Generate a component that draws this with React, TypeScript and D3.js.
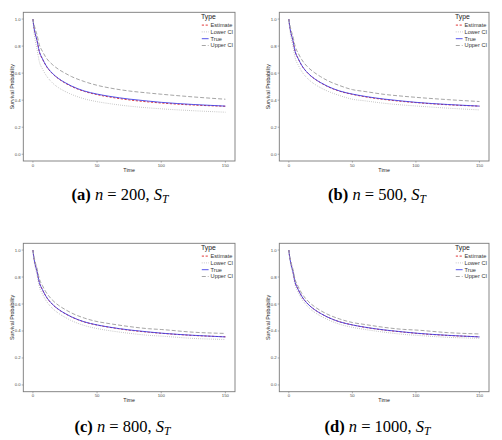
import React from "react";
import * as d3 from "d3";

// ---- data ----
const TIME = [0, 0.5, 1, 2, 3, 5, 7.5, 10, 15, 20, 25, 30, 40, 50, 60, 75, 90, 100, 125, 150];
const TRUE_SURV = [1, 0.96, 0.93, 0.885, 0.85, 0.76, 0.705, 0.66, 0.6, 0.56, 0.53, 0.505, 0.468, 0.445, 0.428, 0.408, 0.393, 0.384, 0.368, 0.356];

const EST_A = [1, 0.96, 0.928, 0.882, 0.848, 0.758, 0.703, 0.658, 0.598, 0.558, 0.527, 0.502, 0.465, 0.441, 0.423, 0.402, 0.387, 0.379, 0.364, 0.355];
const LOWER_A = [1, 0.94, 0.89, 0.83, 0.785, 0.685, 0.63, 0.588, 0.53, 0.492, 0.465, 0.443, 0.41, 0.389, 0.374, 0.356, 0.343, 0.336, 0.322, 0.311];
const UPPER_A = [1, 0.97, 0.955, 0.92, 0.89, 0.81, 0.76, 0.718, 0.665, 0.628, 0.6, 0.575, 0.538, 0.51, 0.49, 0.468, 0.453, 0.444, 0.424, 0.407];

const EST_B = [1, 0.96, 0.929, 0.884, 0.849, 0.759, 0.704, 0.659, 0.599, 0.559, 0.529, 0.503, 0.466, 0.443, 0.425, 0.405, 0.39, 0.382, 0.366, 0.356];
const LOWER_B = [1, 0.948, 0.905, 0.85, 0.808, 0.712, 0.658, 0.615, 0.558, 0.52, 0.492, 0.469, 0.434, 0.407, 0.395, 0.377, 0.364, 0.357, 0.341, 0.328];
const UPPER_B = [1, 0.968, 0.948, 0.91, 0.88, 0.798, 0.745, 0.702, 0.644, 0.605, 0.574, 0.547, 0.508, 0.478, 0.464, 0.443, 0.429, 0.421, 0.404, 0.39];

const EST_C = [1, 0.96, 0.93, 0.884, 0.85, 0.76, 0.704, 0.659, 0.599, 0.559, 0.529, 0.504, 0.467, 0.444, 0.427, 0.406, 0.391, 0.383, 0.367, 0.357];
const LOWER_C = [1, 0.952, 0.913, 0.861, 0.822, 0.728, 0.673, 0.629, 0.57, 0.531, 0.502, 0.477, 0.441, 0.418, 0.402, 0.383, 0.368, 0.362, 0.345, 0.337];
const UPPER_C = [1, 0.966, 0.943, 0.903, 0.872, 0.788, 0.735, 0.691, 0.631, 0.59, 0.56, 0.534, 0.496, 0.47, 0.454, 0.433, 0.417, 0.411, 0.391, 0.382];

const EST_D = [1, 0.96, 0.93, 0.885, 0.85, 0.76, 0.705, 0.66, 0.6, 0.56, 0.53, 0.505, 0.468, 0.445, 0.427, 0.407, 0.392, 0.383, 0.367, 0.357];
const LOWER_D = [1, 0.954, 0.918, 0.869, 0.831, 0.739, 0.684, 0.64, 0.58, 0.54, 0.511, 0.487, 0.45, 0.427, 0.411, 0.391, 0.375, 0.368, 0.353, 0.346];
const UPPER_D = [1, 0.965, 0.94, 0.899, 0.867, 0.781, 0.727, 0.682, 0.622, 0.582, 0.551, 0.526, 0.489, 0.463, 0.448, 0.427, 0.412, 0.407, 0.388, 0.378];

const X_TICKS = [0, 50, 100, 150];
const Y_TICKS = [0, 0.2, 0.4, 0.6, 0.8, 1.0];
const LEGEND_LABELS = ["Estimate", "Lower CI", "True", "Upper CI"];
const PANEL_LETTERS = ["a", "b", "c", "d"];
const PANEL_N = ["200", "500", "800", "1000"];

// ---- styles ----
const SERIES_STYLE = [
  { color: "#e23a3a", dash: "2.2,1.6", width: 1.0 },
  { color: "#a8a8a8", dash: "0.7,1.4", width: 0.9 },
  { color: "#3838e6", dash: "", width: 0.85 },
  { color: "#a0a0a0", dash: "4,2", width: 0.95 },
];

const PANELS = [
  { left: 23.3, right: 235, top: 12.3, bottom: 161, capX: 120, capY: 200, est: EST_A, lower: LOWER_A, upper: UPPER_A },
  { left: 279.3, right: 489, top: 12.3, bottom: 161, capX: 377, capY: 200, est: EST_B, lower: LOWER_B, upper: UPPER_B },
  { left: 23.3, right: 235, top: 243.3, bottom: 391.7, capX: 122.5, capY: 431.5, est: EST_C, lower: LOWER_C, upper: UPPER_C },
  { left: 279.3, right: 489, top: 243.3, bottom: 391.7, capX: 377.5, capY: 431.5, est: EST_D, lower: LOWER_D, upper: UPPER_D },
];

const SANS = "'Liberation Sans', Arial, sans-serif";
const SERIF = "'Liberation Serif', 'DejaVu Serif', 'Times New Roman', serif";

function Panel({ p, idx }: { p: typeof PANELS[number]; idx: number }) {
  const x = d3.scaleLinear().domain([-7.5, 157.5]).range([p.left, p.right]);
  const y = d3.scaleLinear().domain([-0.05, 1.05]).range([p.bottom, p.top]);
  const line = d3
    .line<number>()
    .x((_, i) => x(TIME[i]))
    .y((v) => y(v))
    .curve(d3.curveMonotoneX);
  const series = [p.est, p.lower, TRUE_SURV, p.upper];
  const lx = p.right - 34;
  return (
    <g>
      {series.map((s, si) => (
        <path
          key={si}
          d={line(s) || ""}
          fill="none"
          stroke={SERIES_STYLE[si].color}
          strokeWidth={SERIES_STYLE[si].width}
          strokeDasharray={SERIES_STYLE[si].dash}
        />
      ))}
      <rect
        x={p.left}
        y={p.top}
        width={p.right - p.left}
        height={p.bottom - p.top}
        fill="none"
        stroke="#7a7a7a"
        strokeWidth={0.9}
      />
      {Y_TICKS.map((t) => (
        <g key={"y" + t}>
          <line x1={p.left - 1.6} x2={p.left} y1={y(t)} y2={y(t)} stroke="#7a7a7a" strokeWidth={0.6} />
          <text
            x={p.left - 2.6}
            y={y(t)}
            dy="0.35em"
            textAnchor="end"
            fontSize={4.3}
            fontFamily={SANS}
            fill="#4d4d4d"
          >
            {t.toFixed(1)}
          </text>
        </g>
      ))}
      {X_TICKS.map((t) => (
        <g key={"x" + t}>
          <line x1={x(t)} x2={x(t)} y1={p.bottom} y2={p.bottom + 1.6} stroke="#7a7a7a" strokeWidth={0.6} />
          <text x={x(t)} y={p.bottom + 5.6} textAnchor="middle" fontSize={4.3} fontFamily={SANS} fill="#4d4d4d">
            {t}
          </text>
        </g>
      ))}
      <text
        x={(p.left + p.right) / 2}
        y={p.bottom + 10.6}
        textAnchor="middle"
        fontSize={5.3}
        fontFamily={SANS}
        fill="#222"
      >
        Time
      </text>
      <text
        transform={`translate(${p.left - 9.8},${(p.top + p.bottom) / 2}) rotate(-90)`}
        textAnchor="middle"
        fontSize={5.3}
        fontFamily={SANS}
        fill="#222"
      >
        Survival Probability
      </text>
      <text x={lx} y={p.top + 6.8} fontSize={6.8} fontFamily={SANS} fill="#222">
        Type
      </text>
      {LEGEND_LABELS.map((lab, i) => {
        const by = p.top + 14.6 + i * 6.8;
        const st = SERIES_STYLE[i];
        return (
          <g key={lab}>
            <line
              x1={lx + 0.8}
              x2={lx + 7.6}
              y1={by - 1.8}
              y2={by - 1.8}
              stroke={st.color}
              strokeWidth={st.width}
              strokeDasharray={st.dash}
            />
            <text x={lx + 9.6} y={by} fontSize={5.6} fontFamily={SANS} fill="#333">
              {lab}
            </text>
          </g>
        );
      })}
      <text x={p.capX} y={p.capY} textAnchor="middle" fontSize={16.5} fontFamily={SERIF} fill="#000">
        <tspan fontWeight="bold">({PANEL_LETTERS[idx]})</tspan>
        <tspan> </tspan>
        <tspan fontStyle="italic">n</tspan>
        <tspan> = {PANEL_N[idx]}, </tspan>
        <tspan fontStyle="italic">S</tspan>
        <tspan fontStyle="italic" fontSize={11.5} dy={3}>
          T
        </tspan>
      </text>
    </g>
  );
}

export default function App() {
  return (
    <svg
      width={502}
      height={440}
      viewBox="0 0 502 440"
      style={{ position: "absolute", left: 0, top: 0, background: "#fff" }}
    >
      <rect x={0} y={0} width={502} height={440} fill="#fff" />
      {PANELS.map((p, i) => (
        <Panel key={i} p={p} idx={i} />
      ))}
    </svg>
  );
}
